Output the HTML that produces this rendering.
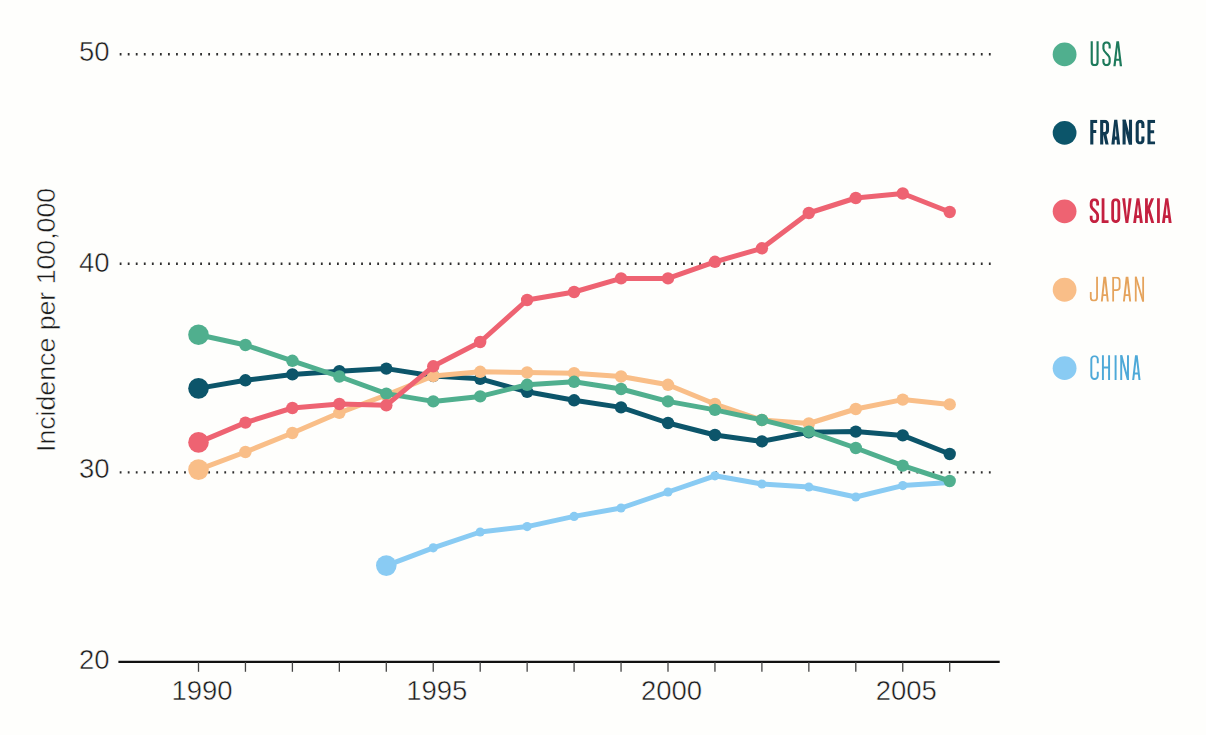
<!DOCTYPE html>
<html><head><meta charset="utf-8"><style>
html,body{margin:0;padding:0;background:#fefefc;}
body{width:1206px;height:735px;overflow:hidden;}
svg{display:block;}
.ax{font-family:"Liberation Sans",sans-serif;font-size:27.5px;fill:#1a1a1a;stroke:#fefefc;stroke-width:0.5px;}
.lg{font-family:"Liberation Sans",sans-serif;font-size:37px;}
</style></head><body>
<svg width="1206" height="735" viewBox="0 0 1206 735">
<rect width="1206" height="735" fill="#fefefc"/>
<defs><clipPath id="c0"><rect x="1080" y="41.35" width="110" height="24.80"/></clipPath><clipPath id="c1"><rect x="1080" y="119.80" width="110" height="24.80"/></clipPath><clipPath id="c2"><rect x="1080" y="198.25" width="110" height="24.80"/></clipPath><clipPath id="c3"><rect x="1080" y="276.70" width="110" height="24.80"/></clipPath><clipPath id="c4"><rect x="1080" y="355.15" width="110" height="24.80"/></clipPath></defs>
<line x1="119.7" y1="54.3" x2="991" y2="54.3" stroke="#2e2e2e" stroke-width="2.4" stroke-dasharray="1.8 6.248" />
<line x1="119.7" y1="263.8" x2="991" y2="263.8" stroke="#2e2e2e" stroke-width="2.4" stroke-dasharray="1.8 6.248" />
<line x1="119.7" y1="472.4" x2="991" y2="472.4" stroke="#2e2e2e" stroke-width="2.4" stroke-dasharray="1.8 6.248" />
<line x1="118.4" y1="661.8" x2="999.7" y2="661.8" stroke="#111" stroke-width="2.3"/>
<line x1="198.50" y1="662" x2="198.50" y2="671.8" stroke="#444" stroke-width="1.3"/>
<line x1="245.45" y1="662" x2="245.45" y2="671.8" stroke="#444" stroke-width="1.3"/>
<line x1="292.40" y1="662" x2="292.40" y2="671.8" stroke="#444" stroke-width="1.3"/>
<line x1="339.35" y1="662" x2="339.35" y2="671.8" stroke="#444" stroke-width="1.3"/>
<line x1="386.30" y1="662" x2="386.30" y2="671.8" stroke="#444" stroke-width="1.3"/>
<line x1="433.25" y1="662" x2="433.25" y2="671.8" stroke="#444" stroke-width="1.3"/>
<line x1="480.20" y1="662" x2="480.20" y2="671.8" stroke="#444" stroke-width="1.3"/>
<line x1="527.15" y1="662" x2="527.15" y2="671.8" stroke="#444" stroke-width="1.3"/>
<line x1="574.10" y1="662" x2="574.10" y2="671.8" stroke="#444" stroke-width="1.3"/>
<line x1="621.05" y1="662" x2="621.05" y2="671.8" stroke="#444" stroke-width="1.3"/>
<line x1="668.00" y1="662" x2="668.00" y2="671.8" stroke="#444" stroke-width="1.3"/>
<line x1="714.95" y1="662" x2="714.95" y2="671.8" stroke="#444" stroke-width="1.3"/>
<line x1="761.90" y1="662" x2="761.90" y2="671.8" stroke="#444" stroke-width="1.3"/>
<line x1="808.85" y1="662" x2="808.85" y2="671.8" stroke="#444" stroke-width="1.3"/>
<line x1="855.80" y1="662" x2="855.80" y2="671.8" stroke="#444" stroke-width="1.3"/>
<line x1="902.75" y1="662" x2="902.75" y2="671.8" stroke="#444" stroke-width="1.3"/>
<line x1="949.70" y1="662" x2="949.70" y2="671.8" stroke="#444" stroke-width="1.3"/>
<text x="109.6" y="60.6" text-anchor="end" class="ax">50</text>
<text x="109.6" y="272.1" text-anchor="end" class="ax">40</text>
<text x="109.6" y="478.2" text-anchor="end" class="ax">30</text>
<text x="109.6" y="668.6" text-anchor="end" class="ax">20</text>
<text x="202.00" y="700.4" text-anchor="middle" class="ax">1990</text>
<text x="436.75" y="700.4" text-anchor="middle" class="ax">1995</text>
<text x="671.50" y="700.4" text-anchor="middle" class="ax">2000</text>
<text x="906.25" y="700.4" text-anchor="middle" class="ax">2005</text>
<text transform="translate(55.3,452) rotate(-90)" class="ax" style="font-size:26.7px">Incidence per 100,000</text>
<polyline points="386.30,565.60 433.25,547.80 480.20,532.00 527.15,526.60 574.10,516.40 621.05,508.00 668.00,492.00 714.95,475.80 761.90,484.00 808.85,487.00 855.80,497.00 902.75,485.60 949.70,482.40" fill="none" stroke="#89cbf3" stroke-width="5.0" stroke-linejoin="round"/>
<circle cx="386.30" cy="565.60" r="10.3" fill="#89cbf3"/>
<circle cx="433.25" cy="547.80" r="4.6" fill="#89cbf3"/>
<circle cx="480.20" cy="532.00" r="4.6" fill="#89cbf3"/>
<circle cx="527.15" cy="526.60" r="4.6" fill="#89cbf3"/>
<circle cx="574.10" cy="516.40" r="4.6" fill="#89cbf3"/>
<circle cx="621.05" cy="508.00" r="4.6" fill="#89cbf3"/>
<circle cx="668.00" cy="492.00" r="4.6" fill="#89cbf3"/>
<circle cx="714.95" cy="475.80" r="4.6" fill="#89cbf3"/>
<circle cx="761.90" cy="484.00" r="4.6" fill="#89cbf3"/>
<circle cx="808.85" cy="487.00" r="4.6" fill="#89cbf3"/>
<circle cx="855.80" cy="497.00" r="4.6" fill="#89cbf3"/>
<circle cx="902.75" cy="485.60" r="4.6" fill="#89cbf3"/>
<circle cx="949.70" cy="482.40" r="4.6" fill="#89cbf3"/>
<polyline points="198.50,388.40 245.45,380.30 292.40,374.40 339.35,371.20 386.30,368.60 433.25,376.00 480.20,378.80 527.15,391.80 574.10,400.30 621.05,407.40 668.00,423.00 714.95,435.00 761.90,441.40 808.85,432.30 855.80,431.60 902.75,435.40 949.70,454.00" fill="none" stroke="#0c556a" stroke-width="5.0" stroke-linejoin="round"/>
<circle cx="198.50" cy="388.40" r="10.3" fill="#0c556a"/>
<circle cx="245.45" cy="380.30" r="6.2" fill="#0c556a"/>
<circle cx="292.40" cy="374.40" r="6.2" fill="#0c556a"/>
<circle cx="339.35" cy="371.20" r="6.2" fill="#0c556a"/>
<circle cx="386.30" cy="368.60" r="6.2" fill="#0c556a"/>
<circle cx="433.25" cy="376.00" r="6.2" fill="#0c556a"/>
<circle cx="480.20" cy="378.80" r="6.2" fill="#0c556a"/>
<circle cx="527.15" cy="391.80" r="6.2" fill="#0c556a"/>
<circle cx="574.10" cy="400.30" r="6.2" fill="#0c556a"/>
<circle cx="621.05" cy="407.40" r="6.2" fill="#0c556a"/>
<circle cx="668.00" cy="423.00" r="6.2" fill="#0c556a"/>
<circle cx="714.95" cy="435.00" r="6.2" fill="#0c556a"/>
<circle cx="761.90" cy="441.40" r="6.2" fill="#0c556a"/>
<circle cx="808.85" cy="432.30" r="6.2" fill="#0c556a"/>
<circle cx="855.80" cy="431.60" r="6.2" fill="#0c556a"/>
<circle cx="902.75" cy="435.40" r="6.2" fill="#0c556a"/>
<circle cx="949.70" cy="454.00" r="6.2" fill="#0c556a"/>
<polyline points="198.50,469.60 245.45,452.00 292.40,433.00 339.35,412.80 386.30,395.00 433.25,376.00 480.20,371.80 527.15,372.50 574.10,373.20 621.05,376.50 668.00,384.80 714.95,404.00 761.90,420.00 808.85,423.50 855.80,409.00 902.75,399.60 949.70,404.40" fill="none" stroke="#f9be88" stroke-width="5.0" stroke-linejoin="round"/>
<circle cx="198.50" cy="469.60" r="10.3" fill="#f9be88"/>
<circle cx="245.45" cy="452.00" r="6.2" fill="#f9be88"/>
<circle cx="292.40" cy="433.00" r="6.2" fill="#f9be88"/>
<circle cx="339.35" cy="412.80" r="6.2" fill="#f9be88"/>
<circle cx="386.30" cy="395.00" r="6.2" fill="#f9be88"/>
<circle cx="433.25" cy="376.00" r="6.2" fill="#f9be88"/>
<circle cx="480.20" cy="371.80" r="6.2" fill="#f9be88"/>
<circle cx="527.15" cy="372.50" r="6.2" fill="#f9be88"/>
<circle cx="574.10" cy="373.20" r="6.2" fill="#f9be88"/>
<circle cx="621.05" cy="376.50" r="6.2" fill="#f9be88"/>
<circle cx="668.00" cy="384.80" r="6.2" fill="#f9be88"/>
<circle cx="714.95" cy="404.00" r="6.2" fill="#f9be88"/>
<circle cx="761.90" cy="420.00" r="6.2" fill="#f9be88"/>
<circle cx="808.85" cy="423.50" r="6.2" fill="#f9be88"/>
<circle cx="855.80" cy="409.00" r="6.2" fill="#f9be88"/>
<circle cx="902.75" cy="399.60" r="6.2" fill="#f9be88"/>
<circle cx="949.70" cy="404.40" r="6.2" fill="#f9be88"/>
<polyline points="198.50,334.70 245.45,345.00 292.40,360.80 339.35,376.50 386.30,393.60 433.25,401.40 480.20,396.40 527.15,384.80 574.10,381.80 621.05,389.00 668.00,401.40 714.95,409.90 761.90,420.00 808.85,431.60 855.80,448.00 902.75,465.60 949.70,481.00" fill="none" stroke="#50af8e" stroke-width="5.0" stroke-linejoin="round"/>
<circle cx="198.50" cy="334.70" r="10.3" fill="#50af8e"/>
<circle cx="245.45" cy="345.00" r="6.2" fill="#50af8e"/>
<circle cx="292.40" cy="360.80" r="6.2" fill="#50af8e"/>
<circle cx="339.35" cy="376.50" r="6.2" fill="#50af8e"/>
<circle cx="386.30" cy="393.60" r="6.2" fill="#50af8e"/>
<circle cx="433.25" cy="401.40" r="6.2" fill="#50af8e"/>
<circle cx="480.20" cy="396.40" r="6.2" fill="#50af8e"/>
<circle cx="527.15" cy="384.80" r="6.2" fill="#50af8e"/>
<circle cx="574.10" cy="381.80" r="6.2" fill="#50af8e"/>
<circle cx="621.05" cy="389.00" r="6.2" fill="#50af8e"/>
<circle cx="668.00" cy="401.40" r="6.2" fill="#50af8e"/>
<circle cx="714.95" cy="409.90" r="6.2" fill="#50af8e"/>
<circle cx="761.90" cy="420.00" r="6.2" fill="#50af8e"/>
<circle cx="808.85" cy="431.60" r="6.2" fill="#50af8e"/>
<circle cx="855.80" cy="448.00" r="6.2" fill="#50af8e"/>
<circle cx="902.75" cy="465.60" r="6.2" fill="#50af8e"/>
<circle cx="949.70" cy="481.00" r="6.2" fill="#50af8e"/>
<polyline points="198.50,442.40 245.45,422.60 292.40,408.00 339.35,404.00 386.30,405.30 433.25,366.30 480.20,342.00 527.15,300.00 574.10,292.00 621.05,278.40 668.00,278.40 714.95,261.80 761.90,248.30 808.85,213.00 855.80,198.00 902.75,193.50 949.70,212.00" fill="none" stroke="#ee6372" stroke-width="5.0" stroke-linejoin="round"/>
<circle cx="198.50" cy="442.40" r="10.3" fill="#ee6372"/>
<circle cx="245.45" cy="422.60" r="6.2" fill="#ee6372"/>
<circle cx="292.40" cy="408.00" r="6.2" fill="#ee6372"/>
<circle cx="339.35" cy="404.00" r="6.2" fill="#ee6372"/>
<circle cx="386.30" cy="405.30" r="6.2" fill="#ee6372"/>
<circle cx="433.25" cy="366.30" r="6.2" fill="#ee6372"/>
<circle cx="480.20" cy="342.00" r="6.2" fill="#ee6372"/>
<circle cx="527.15" cy="300.00" r="6.2" fill="#ee6372"/>
<circle cx="574.10" cy="292.00" r="6.2" fill="#ee6372"/>
<circle cx="621.05" cy="278.40" r="6.2" fill="#ee6372"/>
<circle cx="668.00" cy="278.40" r="6.2" fill="#ee6372"/>
<circle cx="714.95" cy="261.80" r="6.2" fill="#ee6372"/>
<circle cx="761.90" cy="248.30" r="6.2" fill="#ee6372"/>
<circle cx="808.85" cy="213.00" r="6.2" fill="#ee6372"/>
<circle cx="855.80" cy="198.00" r="6.2" fill="#ee6372"/>
<circle cx="902.75" cy="193.50" r="6.2" fill="#ee6372"/>
<circle cx="949.70" cy="212.00" r="6.2" fill="#ee6372"/>
<circle cx="1064.6" cy="54.40" r="11.9" fill="#50af8e"/>
<path d="M1091.73,39.35V62.15A2.92,2.92 0 0 0 1097.58,62.15V39.35M1109.67,48.54V45.55A3.12,3.12 0 0 0 1103.42,45.55V48.79C1103.42,52.76 1109.67,54.25 1109.67,58.71V61.95A3.12,3.12 0 0 1 1103.42,61.95V58.96M1115.22,59.70H1120.18" fill="none" stroke="#1d7a5b" stroke-width="2.15" stroke-linecap="butt" stroke-linejoin="miter" clip-path="url(#c0)"/>
<path d="M1113.35,66.15L1116.40,41.35L1119.00,41.35L1122.05,66.15L1119.79,66.15L1117.70,47.30L1115.61,66.15Z" fill="#1d7a5b"/>
<circle cx="1064.6" cy="132.85" r="11.9" fill="#0c556a"/>
<path d="M1091.80,146.60V121.35H1097.15M1091.80,131.46H1096.25M1101.70,146.60V121.35H1104.60A2.90,2.90 0 0 1 1107.50,124.25V130.54A2.90,2.90 0 0 1 1104.60,133.44H1101.70M1104.60,133.44L1107.50,146.60M1113.64,138.15H1117.86M1124.10,146.60V117.80M1130.50,146.60V117.80M1142.90,127.98V124.20A2.85,2.85 0 0 0 1137.20,124.20V140.20A2.85,2.85 0 0 0 1142.90,140.20V136.42M1155.05,121.35H1149.00V143.05H1155.05M1149.00,131.70H1154.15" fill="none" stroke="#0f3a52" stroke-width="3.1" stroke-linecap="butt" stroke-linejoin="miter" clip-path="url(#c1)"/>
<path d="M1111.35,144.60L1114.20,119.80L1117.30,119.80L1120.15,144.60L1116.89,144.60L1115.75,125.75L1114.61,144.60ZM1122.55,119.80L1125.81,119.80L1132.05,144.60L1128.79,144.60Z" fill="#0f3a52"/>
<circle cx="1064.6" cy="211.30" r="11.9" fill="#ee6372"/>
<path d="M1097.65,205.44V202.90A3.25,3.25 0 0 0 1091.15,202.90V205.69C1091.15,209.66 1097.65,211.15 1097.65,215.61V218.40A3.25,3.25 0 0 1 1091.15,218.40V215.86M1103.05,196.25V221.65H1108.55M1112.65,202.75V218.55A3.10,3.10 0 0 0 1118.85,218.55V202.75A3.10,3.10 0 0 0 1112.65,202.75ZM1135.45,216.60H1140.55M1146.45,196.25V225.05M1146.45,213.63L1153.35,196.25M1148.52,208.67L1153.35,225.05M1158.45,196.25V225.05M1164.25,216.60H1169.35" fill="none" stroke="#c4203f" stroke-width="2.8" stroke-linecap="butt" stroke-linejoin="miter" clip-path="url(#c2)"/>
<path d="M1122.15,198.25L1125.50,223.05L1128.30,223.05L1131.65,198.25L1128.71,198.25L1126.90,217.10L1125.09,198.25ZM1133.15,223.05L1136.60,198.25L1139.40,198.25L1142.85,223.05L1139.91,223.05L1138.00,204.20L1136.09,223.05ZM1161.95,223.05L1165.40,198.25L1168.20,198.25L1171.65,223.05L1168.71,223.05L1166.80,204.20L1164.89,223.05Z" fill="#c4203f"/>
<circle cx="1064.6" cy="289.75" r="11.9" fill="#f9be88"/>
<path d="M1097.05,274.70V297.45A3.15,3.15 0 0 1 1090.75,297.45V292.08M1102.44,295.05H1107.16M1113.15,303.50V277.60H1116.45A3.20,3.20 0 0 1 1119.65,280.80V286.89A3.20,3.20 0 0 1 1116.45,290.09H1113.15M1124.58,295.05H1129.52M1135.75,303.50V274.70M1143.15,303.50V274.70" fill="none" stroke="#e5a35c" stroke-width="1.8" stroke-linecap="butt" stroke-linejoin="miter" clip-path="url(#c3)"/>
<path d="M1100.85,301.50L1103.50,276.70L1106.10,276.70L1108.75,301.50L1106.86,301.50L1104.80,282.65L1102.74,301.50ZM1122.95,301.50L1125.75,276.70L1128.35,276.70L1131.15,301.50L1129.26,301.50L1127.05,282.65L1124.84,301.50ZM1134.85,276.70L1136.74,276.70L1144.05,301.50L1142.16,301.50Z" fill="#e5a35c"/>
<circle cx="1064.6" cy="368.20" r="11.9" fill="#89cbf3"/>
<path d="M1097.78,363.33V359.35A3.23,3.23 0 0 0 1091.32,359.35V375.75A3.23,3.23 0 0 0 1097.78,375.75V371.77M1102.92,353.15V381.95M1109.08,353.15V381.95M1102.92,367.55H1109.08M1115.60,353.15V381.95M1121.22,381.95V353.15M1127.98,381.95V353.15M1133.88,373.50H1138.82" fill="none" stroke="#4ea9d8" stroke-width="1.95" stroke-linecap="butt" stroke-linejoin="miter" clip-path="url(#c4)"/>
<path d="M1120.25,355.15L1122.30,355.15L1128.95,379.95L1126.90,379.95ZM1132.15,379.95L1135.05,355.15L1137.65,355.15L1140.55,379.95L1138.50,379.95L1136.35,361.10L1134.20,379.95Z" fill="#4ea9d8"/>
</svg></body></html>
